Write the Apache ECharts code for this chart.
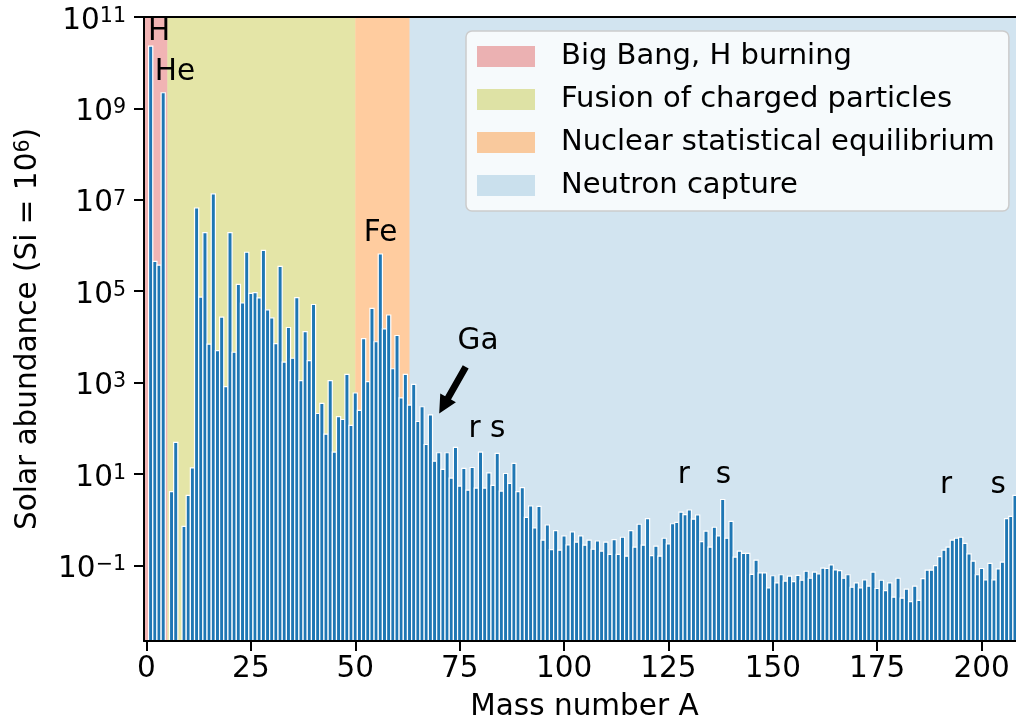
<!DOCTYPE html>
<html>
<head>
<meta charset="utf-8">
<script src="https://cdn.jsdelivr.net/npm/echarts@6/dist/echarts.min.js"></script>
<style>
  html, body { margin: 0; padding: 0; background: #ffffff; }
  #chart { width: 1016px; height: 724px; }
</style>
</head>
<body>
<div id="chart"></div>
<script>
// Solar-system abundance per mass number A, normalised to Si = 1e6.
// Each block lists consecutive mass numbers from its start value; null = no stable nuclide.
const lightStart = 1;            // A = 1 .. 63
const lightAbundance = [
  2.3e10, 4.5e5, 3.7e5, 2.2e9, null, 4.1, 49, null, 0.71, 3.4,
  13.5, 6.6e6, 7.4e4, 1.9e6, 6.9e3, 1.35e7, 5.0e3, 2.7e4, 810, 1.9e6,
  4.6e3, 1.4e5, 5.5e4, 7.1e5, 8.9e4, 9.3e4, 7.1e4, 7.8e5, 3.9e4, 2.6e4,
  7.1e3, 3.5e5, 2.8e3, 1.6e4, 3.4e3, 7.2e4, 1.1e3, 1.3e4, 3.0e3, 5.1e4,
  210, 350, 74, 1.1e3, 30, 180, 155, 1.5e3, 115, 590,
  245, 9.1e3, 1.05e3, 4.2e4, 7.8e3, 6.5e5, 1.5e4, 3.0e4, 2.0e3, 1.07e4,
  460, 1.5e3, 320
];
const mediumStart = 64;          // A = 64 .. 140
const mediumAbundance = [
  910, 140, 295, 44, 195, 19, 29, 12.6, 29, 8.1,
  38, 5.4, 13.2, 4.4, 13.8, 4.9, 30, 4.9, 10.5, 5.6,
  28, 4.2, 10.2, 6.2, 17, 4.1, 5.0, 1.12, 2.0, 0.66,
  1.95, 0.355, 0.76, 0.22, 0.575, 0.214, 0.44, 0.28, 0.54, 0.32,
  0.44, 0.275, 0.355, 0.224, 0.34, 0.204, 0.32, 0.174, 0.363, 0.174,
  0.41, 0.158, 0.575, 0.25, 0.79, 0.275, 1.05, 0.162, 0.263, 0.158,
  0.39, 0.295, 0.81, 0.87, 1.45, 1.29, 1.62, 1.02, 1.26, 0.33,
  0.56, 0.25, 0.68, 0.44, 2.75, 0.39, 0.91
];
const heavyStart = 141;          // A = 141 .. 208
const heavyAbundance = [
  0.151, 0.204, 0.182, 0.182, 0.063, 0.129, 0.068, 0.068, 0.032, 0.059,
  0.041, 0.062, 0.045, 0.058, 0.044, 0.060, 0.047, 0.074, 0.052, 0.071,
  0.065, 0.087, 0.085, 0.102, 0.079, 0.076, 0.052, 0.062, 0.033, 0.041,
  0.032, 0.048, 0.035, 0.071, 0.031, 0.047, 0.028, 0.041, 0.020, 0.052,
  0.019, 0.030, 0.016, 0.035, 0.017, 0.051, 0.078, 0.078, 0.098, 0.155,
  0.214, 0.25, 0.355, 0.39, 0.41, 0.30, 0.178, 0.123, 0.062, 0.085,
  0.048, 0.11, 0.048, 0.083, 0.117, 1.05, 1.17, 3.4
];

// Axis ranges and tick positions
const xMin = -0.6;
const xMax = 210.4;
const xTickValues = [0, 25, 50, 75, 100, 125, 150, 175, 200];
const yFloor = 2.2e-3;           // lower limit of the abundance axis
const yCeil = 1e11;              // upper limit of the abundance axis
const yTickExponents = [-1, 1, 3, 5, 7, 9, 11];

// Nucleosynthesis regions shaded behind the bars
const regionNames = ['Big Bang, H burning', 'Fusion of charged particles',
                     'Nuclear statistical equilibrium', 'Neutron capture'];
const regionStarts = [xMin, 5, 50, 63];
const regionEnds = [5, 50, 63, xMax];
const regionColors = ['rgba(214,39,40,0.35)', 'rgba(188,189,34,0.4)',
                      'rgba(255,127,14,0.4)', 'rgba(31,119,180,0.2)'];

// Text annotations: label, mass number, abundance at the text centre
const noteTexts = ['H', 'He', 'Fe', 'Ga', 'r', 's', 'r', 's', 'r', 's'];
const noteMass = [3.0, 6.8, 56.05, 79.4, 78.6, 84.1, 128.7, 138.2, 191.5, 204.0];
const noteAbundance = [4.7e10, 6.3e9, 1.8e6, 8.1e3, 95, 95, 9.5, 9.5, 5.6, 5.6];

// Arrow pointing at the Ga bar: tail and tip (mass number, abundance)
const arrowTail = [76.45, 2.2e3];
const arrowTip = [70.1, 209];

const FONT = 'DejaVu Sans';
const FS = 29.5;
const SUP = 20.6;

const lg = Math.log10;

function barData() {
  const out = [];
  [[lightStart, lightAbundance], [mediumStart, mediumAbundance], [heavyStart, heavyAbundance]]
    .forEach(([start, arr]) => {
      arr.forEach((v, i) => { if (v != null) out.push([start + i, lg(v)]); });
    });
  return out;
}

const yMinExp = lg(yFloor);
const yMaxExp = lg(yCeil);

function supText(exp) {
  return '{b|10}{s|' + String(exp).replace('-', '\u2212') + '}';
}

const regionSeries = regionNames.map((name, i) => ({
  name: name,
  type: 'custom',
  z: 1,
  clip: true,
  silent: true,
  itemStyle: { color: regionColors[i] },
  data: [[regionStarts[i], regionEnds[i]]],
  renderItem: function (params, api) {
    const p0 = api.coord([api.value(0), yMaxExp]);
    const p1 = api.coord([api.value(1), yMinExp]);
    return {
      type: 'rect',
      shape: { x: p0[0], y: p0[1], width: p1[0] - p0[0], height: p1[1] - p0[1] },
      style: { fill: regionColors[i] }
    };
  }
}));

const barSeries = {
  name: 'abundance',
  type: 'custom',
  z: 3,
  clip: true,
  silent: true,
  data: barData(),
  renderItem: function (params, api) {
    const a = api.value(0);
    const top = api.coord([a, api.value(1)]);
    const base = api.coord([a, yMinExp]);
    const w = api.size([1, 0])[0];
    return {
      type: 'rect',
      shape: { x: top[0] - w / 2, y: top[1], width: w, height: base[1] - top[1] },
      style: { fill: '#1f77b4', stroke: '#ffffff', lineWidth: 1.2 }
    };
  }
};

const noteSeries = {
  name: 'notes',
  type: 'custom',
  z: 6,
  silent: true,
  data: noteTexts.map((t, i) => [noteMass[i], lg(noteAbundance[i])]),
  renderItem: function (params, api) {
    const p = api.coord([api.value(0), api.value(1)]);
    return {
      type: 'text',
      x: p[0], y: p[1],
      style: {
        text: noteTexts[params.dataIndex],
        fontFamily: FONT, fontSize: FS, fill: '#000000',
        align: 'center', verticalAlign: 'middle'
      }
    };
  }
};

const arrowSeries = {
  name: 'arrow',
  type: 'custom',
  z: 6,
  silent: true,
  data: [[arrowTail[0], lg(arrowTail[1]), arrowTip[0], lg(arrowTip[1])]],
  renderItem: function (params, api) {
    const t = api.coord([api.value(0), api.value(1)]);
    const h = api.coord([api.value(2), api.value(3)]);
    const dx = h[0] - t[0], dy = h[1] - t[1];
    const len = Math.sqrt(dx * dx + dy * dy);
    const ux = dx / len, uy = dy / len;      // along the arrow
    const nx = -uy, ny = ux;                 // across the arrow
    const shaft = 3.4, head = 9, headLen = 18;
    const bx = h[0] - ux * headLen, by = h[1] - uy * headLen;
    const pts = [
      [t[0] + nx * shaft, t[1] + ny * shaft],
      [bx + nx * shaft, by + ny * shaft],
      [bx + nx * head, by + ny * head],
      [h[0], h[1]],
      [bx - nx * head, by - ny * head],
      [bx - nx * shaft, by - ny * shaft],
      [t[0] - nx * shaft, t[1] - ny * shaft]
    ];
    return { type: 'polygon', shape: { points: pts }, style: { fill: '#000000' } };
  }
};

const chart = echarts.init(document.getElementById('chart'), null, { renderer: 'canvas' });
chart.setOption({
  animation: false,
  backgroundColor: '#ffffff',
  // the plotting area runs a little past the right edge of the page
  grid: { left: 144, top: 17, width: 881, height: 624, outerBoundsMode: 'none', containLabel: false },
  legend: {
    show: true,
    orient: 'vertical',
    left: 466, top: 31,
    z: 20,
    data: regionNames,
    selectedMode: false,
    icon: 'rect',
    itemWidth: 58, itemHeight: 21, itemGap: 14,
    padding: [11, 14, 11, 11],
    backgroundColor: 'rgba(255,255,255,0.8)',
    borderColor: '#cccccc', borderWidth: 1.5, borderRadius: 6,
    textStyle: { fontFamily: FONT, fontSize: 29, color: '#000000', padding: [0, 0, 0, 21] }
  },
  xAxis: [{
    type: 'value', min: xMin, max: xMax, z: 10,
    name: 'Mass number A', nameLocation: 'middle', nameGap: 51,
    nameTextStyle: { fontFamily: FONT, fontSize: FS, color: '#000000', lineHeight: 30 },
    axisLine: { show: true, onZero: false, lineStyle: { color: '#000000', width: 2 } },
    axisTick: { show: true, length: 10, customValues: xTickValues, lineStyle: { color: '#000000', width: 2 } },
    axisLabel: { show: true, margin: 13, customValues: xTickValues, fontFamily: FONT, fontSize: FS, color: '#000000', lineHeight: 30 },
    splitLine: { show: false }
  }, {
    type: 'value', min: xMin, max: xMax, position: 'top', z: 10,
    axisLine: { show: true, onZero: false, lineStyle: { color: '#000000', width: 2 } },
    axisTick: { show: false }, axisLabel: { show: false }, splitLine: { show: false }
  }],
  yAxis: {
    type: 'value', min: yMinExp, max: yMaxExp, z: 10,
    name: '{a|Solar abundance (Si = 10}{s|6}{a|)}',
    nameLocation: 'middle', nameGap: 101,
    nameTextStyle: {
      rich: {
        a: { fontFamily: FONT, fontSize: FS, color: '#000000', lineHeight: 30 },
        s: { fontFamily: FONT, fontSize: SUP, color: '#000000', lineHeight: 21, verticalAlign: 'top' }
      }
    },
    axisLine: { show: true, onZero: false, lineStyle: { color: '#000000', width: 2 } },
    axisTick: { show: true, length: 10, customValues: yTickExponents, lineStyle: { color: '#000000', width: 2 } },
    axisLabel: {
      show: true, margin: 18, customValues: yTickExponents,
      padding: [8, 0, 0, 0],
      formatter: function (v) { return supText(v); },
      rich: {
        b: { fontFamily: FONT, fontSize: FS, color: '#000000', lineHeight: 30 },
        s: { fontFamily: FONT, fontSize: SUP, color: '#000000', lineHeight: 21, verticalAlign: 'top' }
      }
    },
    splitLine: { show: false }
  },
  series: regionSeries.concat([barSeries, arrowSeries, noteSeries])
});
</script>
</body>
</html>
